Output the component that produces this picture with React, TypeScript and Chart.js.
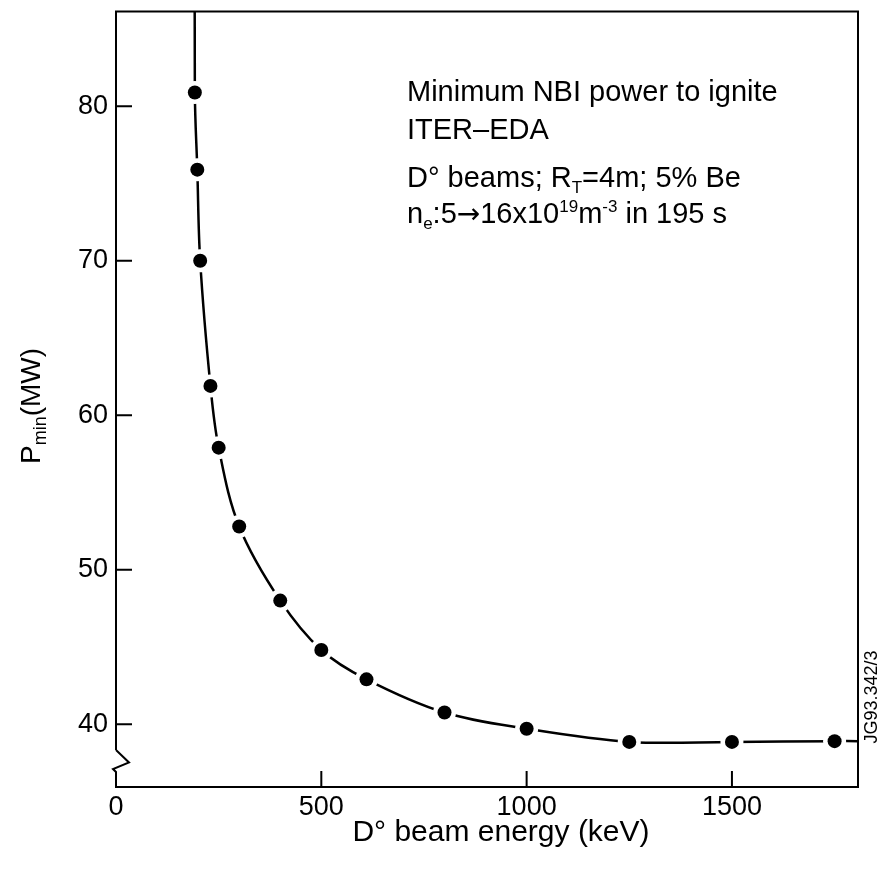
import React, { useEffect, useRef } from "react";
import { Chart, registerables } from "chart.js";

Chart.register(...registerables);

// Measured data points (D° beam energy in keV, minimum power in MW)
const energyKeV = [192, 198, 205, 230, 250, 300, 400, 500, 610, 800, 1000, 1250, 1500, 1750];
const powerMW = [80.9, 75.9, 70.0, 61.9, 57.9, 52.8, 48.0, 44.8, 42.9, 40.75, 39.7, 38.85, 38.85, 38.9];
// The drawn curve continues past the frame at both ends
const curveEnergy = [192, ...energyKeV, 1810];
const curvePower = [100, ...powerMW, 38.9];

const xTicks = [0, 500, 1000, 1500];
const yTicks = [40, 50, 60, 70, 80];
const xRange = [0, 1807];
const yRange = [35.93, 86.14];

const FONT = "'Liberation Sans', Arial, Helvetica, sans-serif";
const ARROW_FONT = "'DejaVu Sans', sans-serif";

type Part = { t: string; dy?: number; size?: number; family?: string };

function drawRich(ctx: CanvasRenderingContext2D, x: number, y: number, parts: Part[], base: number) {
  let cx = x;
  for (const p of parts) {
    const s = p.size ?? base;
    ctx.font = `${s}px ${p.family ?? FONT}`;
    ctx.fillText(p.t, cx, y + (p.dy ?? 0));
    cx += ctx.measureText(p.t).width;
  }
}

const decorPlugin = {
  id: "decor",
  afterDraw(chart: any) {
    const { ctx, chartArea } = chart;
    const { left, right, top, bottom } = chartArea;
    const xs = chart.scales.x;
    const ys = chart.scales.y;
    ctx.save();
    ctx.strokeStyle = "#000";
    ctx.fillStyle = "#000";
    ctx.lineWidth = 2;
    ctx.lineCap = "butt";

    // frame (left side with axis break)
    ctx.beginPath();
    ctx.moveTo(left, 750);
    ctx.lineTo(left, top);
    ctx.lineTo(right, top);
    ctx.lineTo(right, bottom);
    ctx.lineTo(left, bottom);
    ctx.lineTo(left, 772);
    ctx.lineTo(left - 3, 769);
    ctx.lineTo(left + 13, 762.5);
    ctx.lineTo(left, 750);
    ctx.stroke();

    // inward tick marks
    ctx.beginPath();
    for (const v of xTicks) {
      if (v === xRange[0]) continue;
      const px = xs.getPixelForValue(v);
      ctx.moveTo(px, bottom);
      ctx.lineTo(px, bottom - 16);
    }
    for (const v of yTicks) {
      const py = ys.getPixelForValue(v);
      ctx.moveTo(left, py);
      ctx.lineTo(left + 16, py);
    }
    ctx.stroke();

    // x axis title
    ctx.textBaseline = "alphabetic";
    ctx.textAlign = "center";
    ctx.font = `30px ${FONT}`;
    ctx.fillText("D° beam energy (keV)", 501, 841);

    // y axis title (rotated, with subscript)
    ctx.save();
    ctx.translate(40, 406);
    ctx.rotate(-Math.PI / 2);
    ctx.textAlign = "left";
    const yParts: Part[] = [
      { t: "P" },
      { t: "min", dy: 6, size: 18 },
      { t: "(MW)" },
    ];
    let w = 0;
    for (const p of yParts) {
      ctx.font = `${p.size ?? 28}px ${FONT}`;
      w += ctx.measureText(p.t).width;
    }
    drawRich(ctx, -w / 2, 0, yParts, 28);
    ctx.restore();

    // annotation
    ctx.textAlign = "left";
    const ax = 407;
    const fs = 29;
    drawRich(ctx, ax, 101, [{ t: "Minimum NBI power to ignite" }], fs);
    drawRich(ctx, ax, 139, [{ t: "ITER–EDA" }], fs);
    drawRich(
      ctx,
      ax,
      187,
      [{ t: "D° beams; R" }, { t: "T", dy: 6, size: 17 }, { t: "=4m; 5% Be" }],
      fs
    );
    drawRich(
      ctx,
      ax,
      223,
      [
        { t: "n" },
        { t: "e", dy: 6, size: 17 },
        { t: ":5" },
        { t: "→", family: ARROW_FONT, size: 28 },
        { t: "16x10" },
        { t: "19", dy: -11, size: 17 },
        { t: "m" },
        { t: "-3", dy: -11, size: 17 },
        { t: " in 195 s" },
      ],
      fs
    );

    // figure reference code
    ctx.save();
    ctx.translate(877, 697);
    ctx.rotate(-Math.PI / 2);
    ctx.textAlign = "center";
    ctx.font = `18px ${FONT}`;
    ctx.fillText("JG93.342/3", 0, 0);
    ctx.restore();

    ctx.restore();
  },
};

export default function App() {
  const ref = useRef<HTMLCanvasElement | null>(null);

  useEffect(() => {
    if (!ref.current) return;
    const curve = curveEnergy.map((x, i) => ({ x, y: curvePower[i] }));
    const pts = energyKeV.map((x, i) => ({ x, y: powerMW[i] }));
    const tickFont = { family: FONT, size: 27 };
    const chart = new Chart(ref.current, {
      type: "scatter",
      data: {
        datasets: [
          {
            type: "line",
            data: curve,
            borderColor: "#000",
            borderWidth: 2.5,
            pointRadius: 0,
            tension: 0.35,
            fill: false,
            order: 3,
          } as any,
          {
            data: pts,
            pointRadius: 11.5,
            pointBackgroundColor: "#fff",
            pointBorderWidth: 0,
            pointBorderColor: "#fff",
            showLine: false,
            order: 2,
          },
          {
            data: pts,
            pointRadius: 7,
            pointBackgroundColor: "#000",
            pointBorderWidth: 0,
            pointBorderColor: "#000",
            showLine: false,
            order: 1,
          },
        ],
      },
      options: {
        animation: false,
        responsive: false,
        maintainAspectRatio: false,
        layout: { padding: { top: 9, right: 20, left: 0, bottom: 0 } },
        plugins: {
          legend: { display: false },
          tooltip: { enabled: false },
        },
        scales: {
          x: {
            type: "linear",
            min: xRange[0],
            max: xRange[1],
            border: { display: false },
            grid: { display: false, drawTicks: false },
            ticks: {
              font: tickFont,
              color: "#000",
              padding: 4,
              maxRotation: 0,
              autoSkip: false,
              callback: (v: any) => String(v),
            },
            afterBuildTicks: (s: any) => {
              s.ticks = xTicks.map((v) => ({ value: v }));
            },
            afterFit: (s: any) => {
              s.height = 90;
              s.paddingLeft = 0;
              s.paddingRight = 0;
              s.paddingTop = 0;
              s.paddingBottom = 0;
            },
          },
          y: {
            type: "linear",
            min: yRange[0],
            max: yRange[1],
            border: { display: false },
            grid: { display: false, drawTicks: false },
            ticks: {
              font: tickFont,
              color: "#000",
              padding: 8,
              autoSkip: false,
              callback: (v: any) => String(v),
            },
            afterBuildTicks: (s: any) => {
              s.ticks = yTicks.map((v) => ({ value: v }));
            },
            afterFit: (s: any) => {
              s.width = 116;
              s.paddingLeft = 0;
              s.paddingRight = 0;
              s.paddingTop = 0;
              s.paddingBottom = 0;
            },
          },
        },
      } as any,
      plugins: [decorPlugin],
    });
    return () => chart.destroy();
  }, []);

  return (
    <div style={{ position: "fixed", left: 0, top: 0, width: 878, height: 877, background: "#fff" }}>
      <canvas ref={ref} width={878} height={877} style={{ display: "block" }} />
    </div>
  );
}
